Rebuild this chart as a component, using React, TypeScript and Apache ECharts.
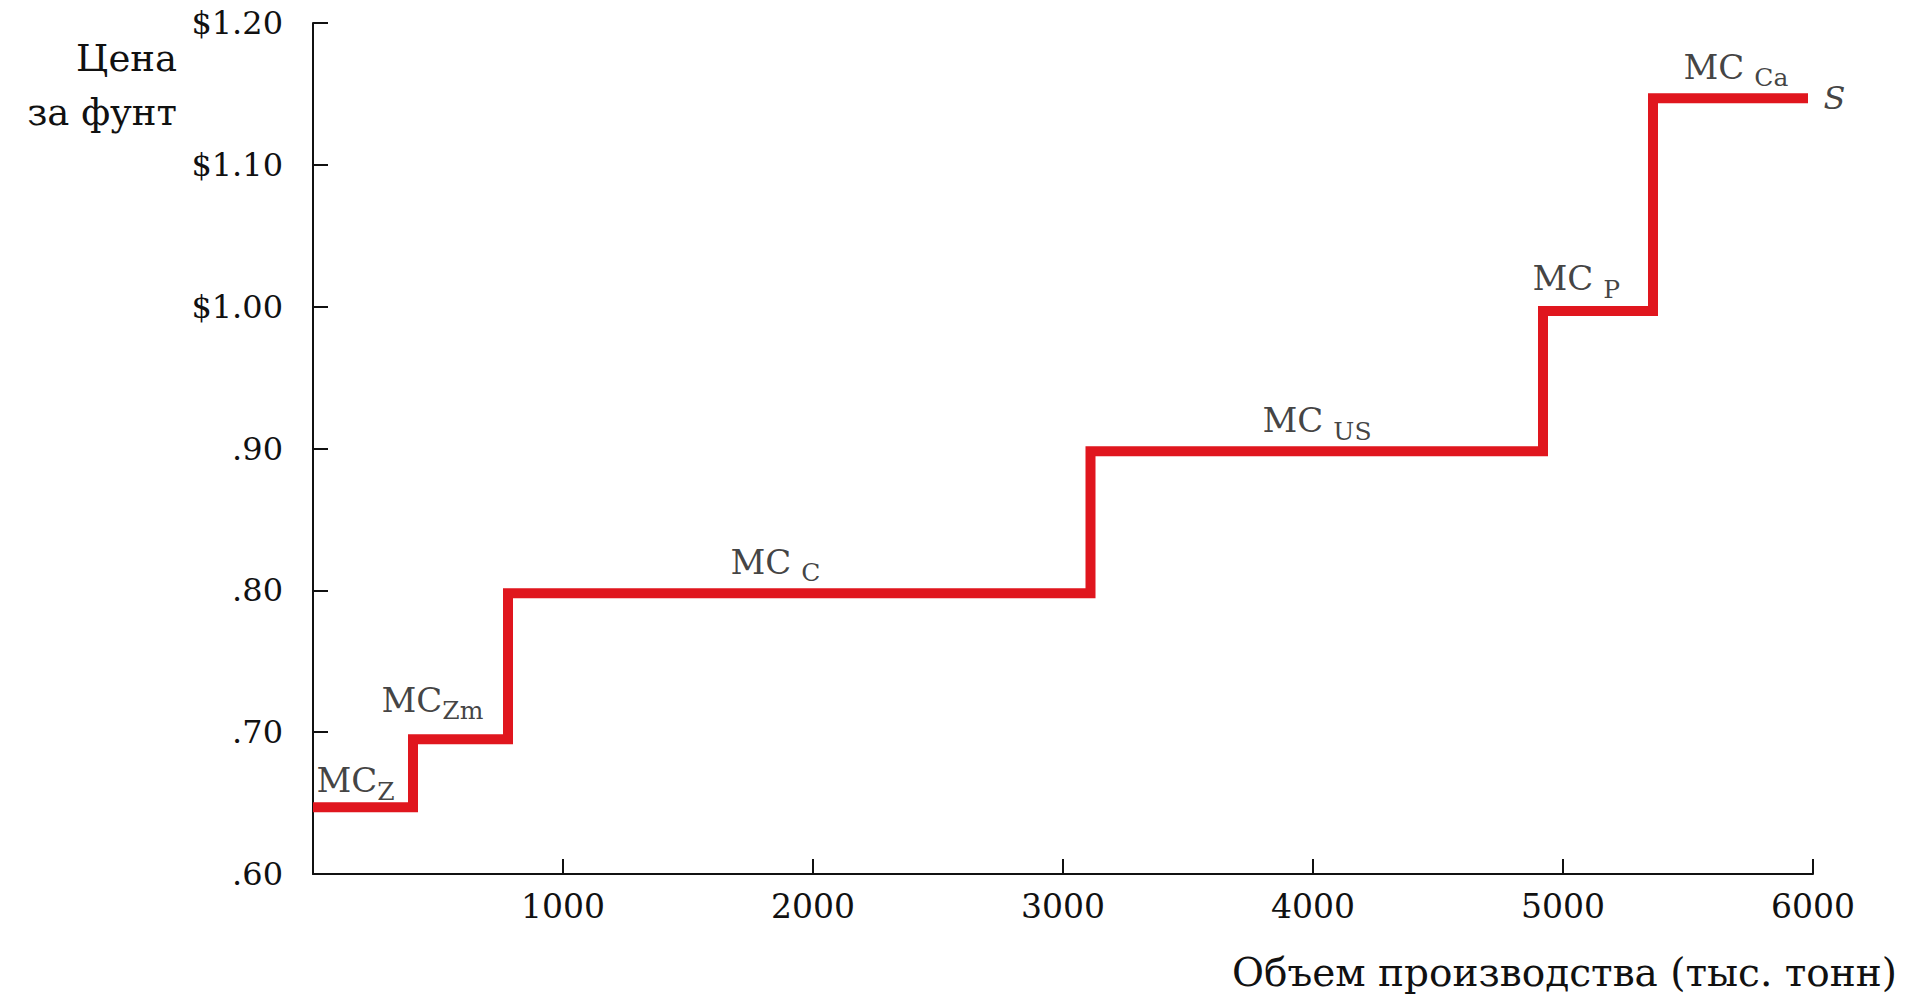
import React, { useEffect, useRef } from "react";
import * as echarts from "echarts";

// ---- data ----
const stepStarts = [0, 400, 780, 3110, 4920, 5360];
const stepPrices = [0.647, 0.695, 0.798, 0.898, 0.997, 1.147];
const supplyEnd = 5980;

const xTickValues = [0, 1000, 2000, 3000, 4000, 5000, 6000];
const xTickLabels = ["", "1000", "2000", "3000", "4000", "5000", "6000"];
const yTickValues = [0.6, 0.7, 0.8, 0.9, 1.0, 1.1, 1.2];
const yTickLabels = [".60", ".70", ".80", ".90", "$1.00", "$1.10", "$1.20"];

const mcSubscripts = ["Z", "Zm", "C", "US", "P", "Ca"];
const mcLabelQ = [12, 272, 1668, 3796, 4876, 5480];
const mcLabelP = [0.666, 0.723, 0.82, 0.92, 1.02, 1.169];
const mcSpaced = [false, false, true, true, true, true];

const supplyLabel = "S";
const supplyLabelQ = 6040;
const supplyLabelP = 1.147;

const yAxisTitle = ["Цена", "за фунт"];
const xAxisTitle = "Объем производства (тыс. тонн)";

const FONT = '"DejaVu Serif", "Liberation Serif", serif';
const INK = "#111111";
const RED = "#e0161e";

export default function App() {
  const ref = useRef<HTMLDivElement>(null);

  useEffect(() => {
    if (!ref.current) return;
    const chart = echarts.init(ref.current, undefined, { renderer: "svg" });

    const lineData = stepStarts.map((q, i) => [q, stepPrices[i]]);
    lineData.push([supplyEnd, stepPrices[stepPrices.length - 1]]);

    const labelData = mcLabelQ.map((q, i) => [q, mcLabelP[i]]);

    const option: any = {
      animation: false,
      backgroundColor: "#ffffff",
      grid: { left: 313, right: 96, top: 23, bottom: 122, containLabel: false },
      xAxis: {
        type: "value",
        min: xTickValues[0],
        max: xTickValues[xTickValues.length - 1],
        interval: 1000,
        axisLine: { show: true, lineStyle: { color: INK, width: 2 } },
        axisTick: { show: true, inside: true, length: 15, lineStyle: { color: INK, width: 2 } },
        splitLine: { show: false },
        axisLabel: {
          fontFamily: FONT,
          fontSize: 33,
          color: INK,
          margin: 16,
          formatter: (v: number) => {
            const i = xTickValues.indexOf(Math.round(v));
            return i >= 0 ? xTickLabels[i] : "";
          },
        },
      },
      yAxis: {
        type: "value",
        min: yTickValues[0],
        max: yTickValues[yTickValues.length - 1],
        interval: 0.1,
        axisLine: { show: true, lineStyle: { color: INK, width: 2 } },
        axisTick: { show: true, inside: true, length: 15, lineStyle: { color: INK, width: 2 } },
        splitLine: { show: false },
        axisLabel: {
          fontFamily: FONT,
          fontSize: 32,
          color: INK,
          margin: 30,
          formatter: (v: number) => {
            const i = Math.round((v - yTickValues[0]) / 0.1);
            return yTickLabels[i] ?? "";
          },
        },
      },
      series: [
        {
          type: "line",
          data: lineData,
          step: "end",
          showSymbol: false,
          silent: true,
          lineStyle: { color: RED, width: 10, cap: "butt", join: "miter" },
        },
        {
          type: "scatter",
          data: labelData,
          symbolSize: 1,
          silent: true,
          clip: false,
          itemStyle: { color: "transparent" },
          label: {
            show: true,
            position: "right",
            distance: 0,
            formatter: (p: any) => {
              const i = p.dataIndex;
              return `{mc|MC}{${mcSpaced[i] ? "subg" : "sub"}|${mcSubscripts[i]}}`;
            },
            rich: {
              mc: { fontFamily: FONT, fontSize: 34, color: INK, lineHeight: 36 },
              sub: { fontFamily: FONT, fontSize: 25, color: INK, lineHeight: 25, padding: [22, 0, 0, 0] },
              subg: { fontFamily: FONT, fontSize: 25, color: INK, lineHeight: 25, padding: [22, 0, 0, 10] },
            },
          },
        },
        {
          type: "scatter",
          data: [[supplyLabelQ, supplyLabelP]],
          symbolSize: 1,
          silent: true,
          clip: false,
          itemStyle: { color: "transparent" },
          label: {
            show: true,
            position: "right",
            distance: 0,
            formatter: () => supplyLabel,
            fontFamily: FONT,
            fontStyle: "italic",
            fontSize: 32,
            color: INK,
          },
        },
      ],
      graphic: [
        {
          type: "text",
          x: 177,
          y: 31,
          style: {
            text: yAxisTitle.join("\n"),
            font: `37px ${FONT}`,
            fill: INK,
            align: "right",
            verticalAlign: "top",
            lineHeight: 54,
          },
        },
        {
          type: "text",
          x: 1897,
          y: 972,
          style: {
            text: xAxisTitle,
            font: `39px ${FONT}`,
            fill: INK,
            align: "right",
            verticalAlign: "middle",
          },
        },
      ],
    };

    chart.setOption(option);
    return () => chart.dispose();
  }, []);

  return (
    <div
      ref={ref}
      style={{ position: "absolute", left: 0, top: 0, width: 1909, height: 996, background: "#fff" }}
    />
  );
}
